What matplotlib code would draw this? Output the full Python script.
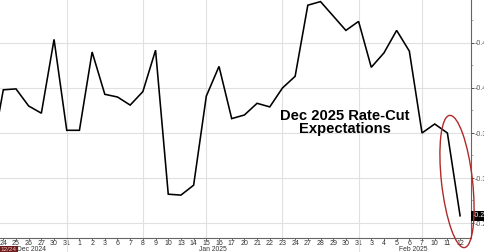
import matplotlib
matplotlib.use("Agg")
import matplotlib.pyplot as plt
from matplotlib.patches import Ellipse

# ---- data ----
days = ["23", "24", "25", "26", "27", "30", "31", "1", "2", "3", "6", "7", "8", "9", "10",
        "13", "14", "15", "16", "17", "20", "21", "22", "23", "24", "27", "28", "29",
        "30", "31", "3", "4", "5", "6", "7", "10", "11", "12"]
values = [-0.32, -0.398, -0.399, -0.380, -0.372, -0.454, -0.353, -0.353, -0.440, -0.393,
          -0.390, -0.381, -0.396, -0.442, -0.282, -0.281, -0.292, -0.391, -0.424, -0.366,
          -0.370, -0.383, -0.379, -0.400, -0.413, -0.492, -0.496, -0.480, -0.464, -0.474,
          -0.423, -0.439, -0.464, -0.441, -0.350, -0.360, -0.350, -0.258]
month_labels = ["Dec 2024", "Jan 2025", "Feb 2025"]
y_ticks = [-0.5, -0.45, -0.4, -0.35, -0.3, -0.25]
grid_days = [6, 12, 17, 23, 29, 34]          # positions of vertical gridlines
month_sep = [6, 29]
title = "Dec 2025 Rate-Cut\nExpectations"

W, H = 485, 252
fig = plt.figure(figsize=(W / 100, H / 100), dpi=100)
top_px = -5
ax_h_px = 238 - top_px
ax = fig.add_axes([0, (H - 238) / H, 471 / W, ax_h_px / H])

x = list(range(len(values)))
ax.plot(x, values, color="black", lw=1.15, solid_joinstyle="miter", zorder=3)

ax.set_xlim(0.74, 37.86)
ax.set_ylim(-0.45 + (238 - 43) / 900, -0.45 - (43 - top_px) / 900)

# grid
for yv in y_ticks:
    ax.axhline(yv, color="#e0e0e0", lw=0.8, zorder=1)
for g in grid_days:
    ax.axvline(g, color="#e0e0e0", lw=0.8, zorder=1)

# spines
for s in ["left", "top"]:
    ax.spines[s].set_visible(False)
ax.spines["bottom"].set_color("#666666")
ax.spines["right"].set_color("#666666")
ax.spines["bottom"].set_linewidth(0.8)
ax.spines["right"].set_linewidth(0.8)

tick_font = "Liberation Sans"
ax.set_xticks(x[1:])
ax.set_xticklabels(days[1:], fontsize=5, color="#333333", family=tick_font)
ax.tick_params(axis="x", length=1.2, width=0.6, pad=0.4, colors="#555555", labelcolor="#333333")

ax.yaxis.tick_right()
ax.set_yticks(y_ticks)
ax.set_yticklabels([f"{v:.2f}" for v in y_ticks], fontsize=5, color="#555555", family=tick_font)
ax.set_yticks([-0.475, -0.425, -0.375, -0.325, -0.275], minor=True)
ax.tick_params(axis="y", which="major", length=2.5, width=0.6, pad=0.5, colors="#333333", labelcolor="#555555")
ax.tick_params(axis="y", which="minor", length=1.5, width=0.5, colors="#888888")

# month labels
ym = -11.5 / ax_h_px
for lab, xm in zip(month_labels, [3.2, 17.5, 33.3]):
    ax.text(xm, ym, lab, transform=ax.get_xaxis_transform(), fontsize=4.9,
            color="#333333", ha="center", va="center", clip_on=False, family=tick_font)
for m in month_sep:
    ax.plot([m, m], [0, -16 / ax_h_px], transform=ax.get_xaxis_transform(), color="#e0e0e0",
            lw=0.8, clip_on=False)
ax.text(0.80, ym, "12/24", transform=ax.get_xaxis_transform(), fontsize=4.6,
        color="#f0c0c0", ha="left", va="center", clip_on=False, family=tick_font,
        bbox=dict(boxstyle="square,pad=0.15", fc="#6e1c1c", ec="none"))

# last value label
ax.text(1.003, values[-1], f"{values[-1]:.2f}", transform=ax.get_yaxis_transform(),
        fontsize=5, color="white", ha="left", va="center", clip_on=False, family=tick_font,
        bbox=dict(boxstyle="square,pad=0.2", fc="black", ec="none"))

# annotation text
ax.text((345 - 3.3) / 12.69 + 1, -0.45 + (122.5 - 43) / 900, title,
        fontsize=10.6, fontweight="bold", family="Liberation Sans", ha="center", va="center",
        color="black", linespacing=0.95, zorder=4)

# red ellipse (pixel based, in inches)
ell = Ellipse((457 / 100, (H - 181.5) / 100), 0.31, 1.33, angle=6.4,
              transform=fig.dpi_scale_trans, fill=False, ec="#b02a2a", lw=1.0)
fig.patches.append(ell)

fig.savefig("out.png", dpi=100)
